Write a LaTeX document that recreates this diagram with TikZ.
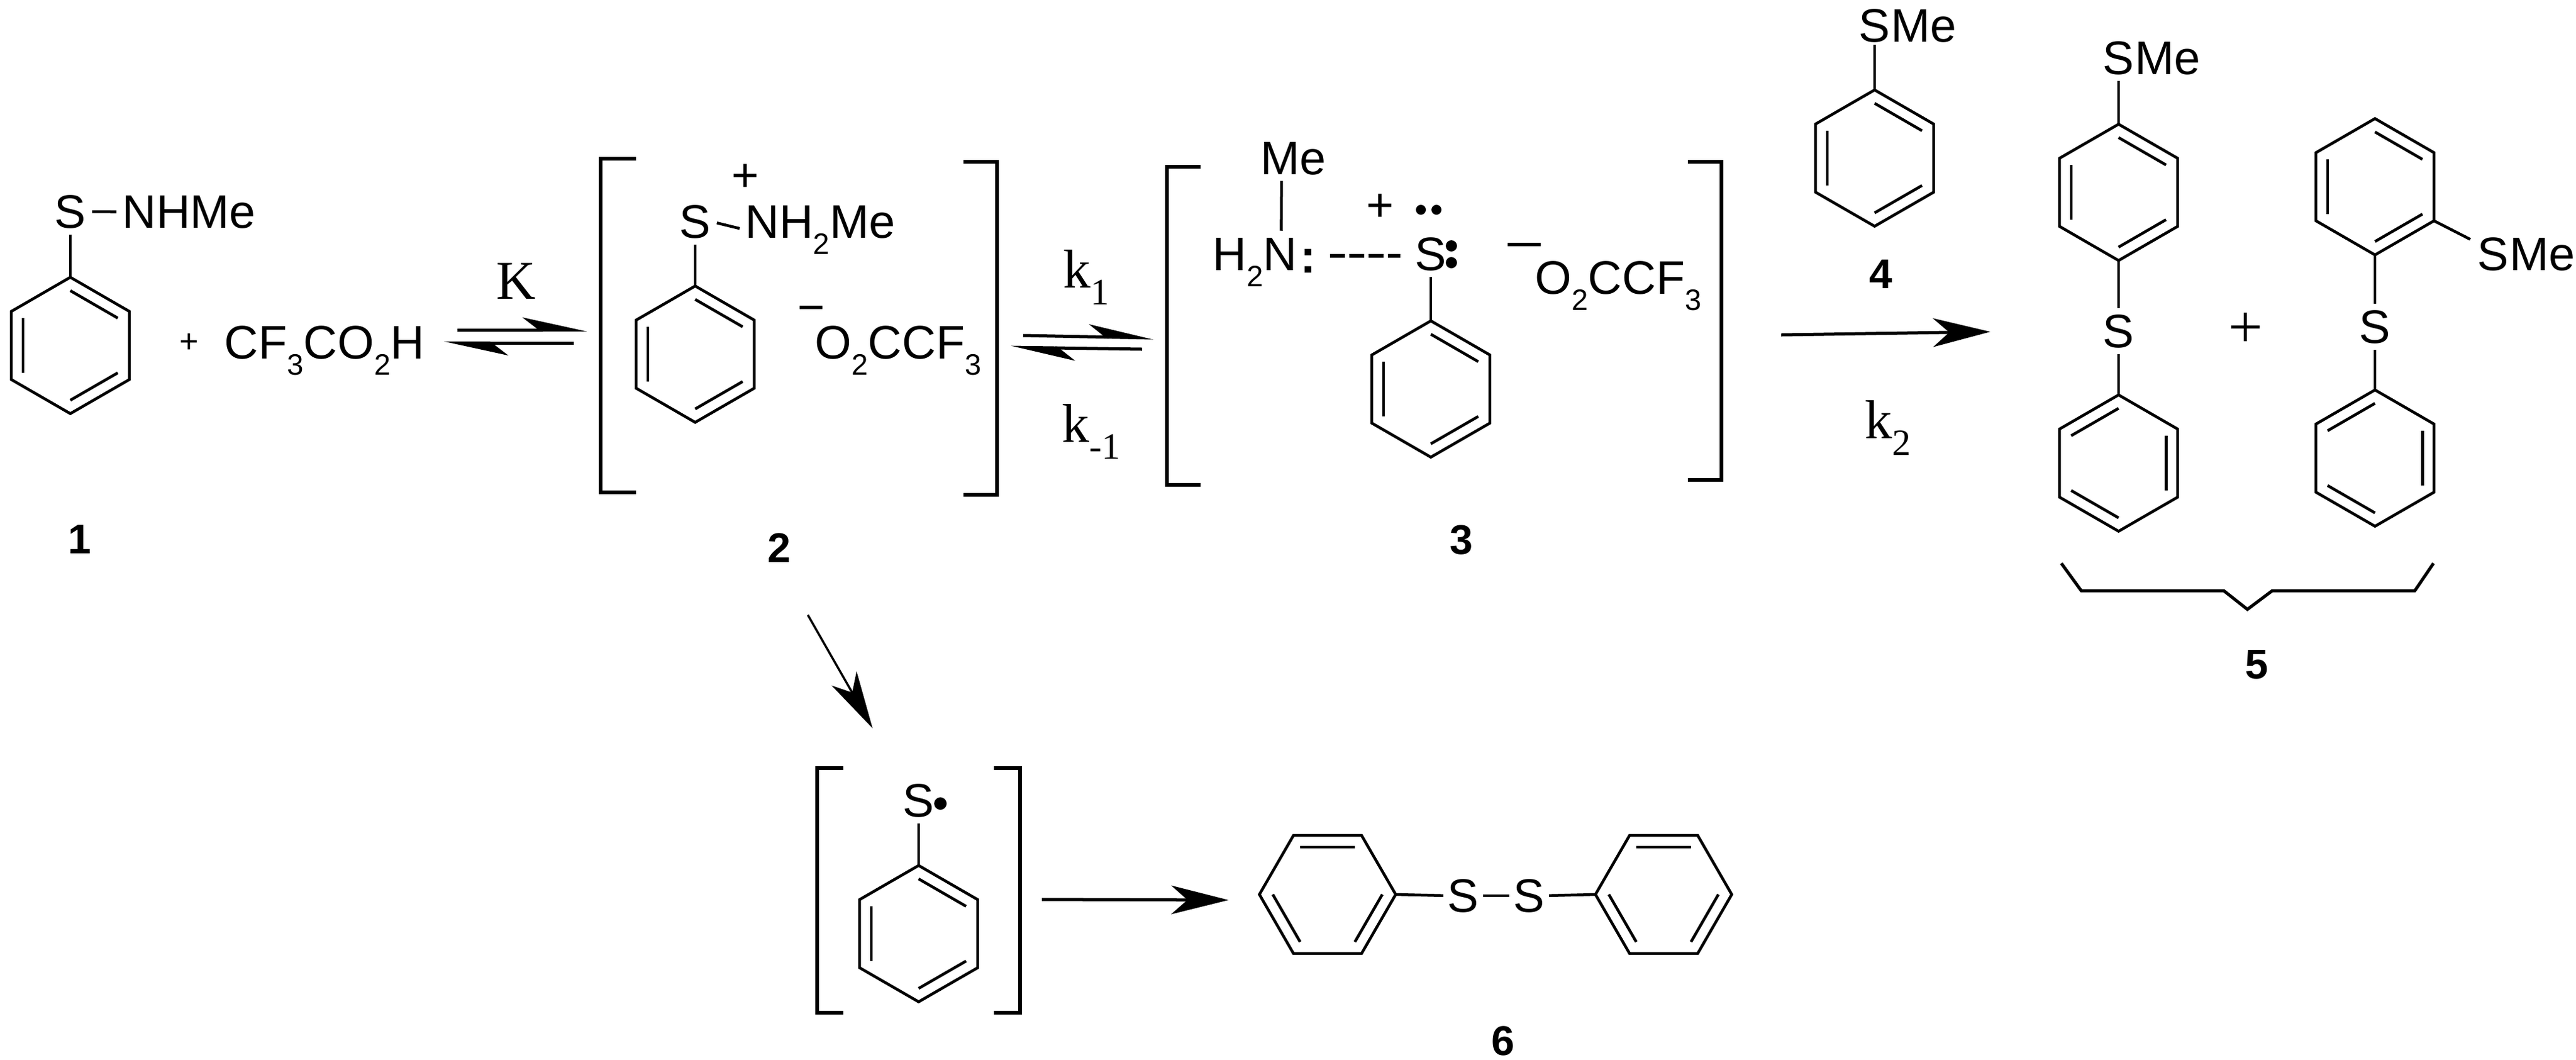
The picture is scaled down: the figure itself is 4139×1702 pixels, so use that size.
\documentclass[tikz,border=0pt]{standalone}
\usepackage{fontspec}
\setmainfont{Liberation Sans}
\newfontfamily\timesfnt{Liberation Serif}
\usetikzlibrary{arrows.meta}
\newcommand{\subsc}[1]{\raisebox{-7.5pt}{\fontsize{13.5}{13.5}\selectfont #1}}
\newcommand{\subk}[1]{\raisebox{-7.7pt}{\fontsize{17}{17}\selectfont #1}}
\tikzset{
  atom/.style={inner sep=0pt,anchor=base,font=\fontsize{21.5}{25}\selectfont},
  cpd/.style={atom,font=\fontsize{19}{23}\selectfont\bfseries},
  rate/.style={atom,font=\fontsize{25}{30}\selectfont\timesfnt},
  bond/.style={line width=0.045cm,shorten <=2.6pt},
  brk/.style={line width=0.06cm},
  rxn/.style={line width=0.05cm,-{Stealth[length=0.92cm,width=0.46cm,inset=0.26cm]}},
  eqm/.style={line width=0.05cm,-{Stealth[harpoon,length=0.92cm,width=0.40cm,inset=0.26cm]}}
}
% ring: name, x, y, rotation, first double bond
\newcommand{\phring}[5]{%
  \begin{scope}[shift={(#2,#3)}]
    \foreach \k in {1,...,6}
      \coordinate (#1-\k) at ({#4-150+60*\k}:109.5);
    \draw [line width=0.045cm] (#1-1)--(#1-2)--(#1-3)--(#1-4)--(#1-5)--(#1-6)--cycle;
    \foreach \k in {1,3,5}
      \draw [line width=0.045cm] ({#4-150+60*(\k+#5)}:88)--({#4-90+60*(\k+#5)}:88);
  \end{scope}}
\begin{document}
\begin{tikzpicture}[x=0.01cm,y=-0.01cm]
\useasboundingbox (0,0) rectangle (4139,1702);
% 1
\phring{ra}{113}{555}{0}{0}
\node [atom] (sa) at (113,366) {S};
\node [atom,anchor=base west] (na) at (196,366) {NHMe};
\draw [bond] (sa.south)--(ra-1);
\draw [bond,shorten >=2.5pt] (sa.east)--(na.west);
\node [atom,font=\fontsize{15}{15}\selectfont] (plusa) at (304,566) {+};
\node [atom,anchor=base west] (acid) at (360,576) {CF\subsc{3}CO\subsc{2}H};
\node [cpd] (lab1) at (128,889) {1};
% K
\node [rate] (keq) at (829,480) {K};
\coordinate (ka) at (735,530);
\coordinate (kb) at (943,530);
\coordinate (kc) at (922,551);
\coordinate (kd) at (713,551);
\draw [eqm] (ka)--(kb);
\draw [eqm] (kc)--(kd);
% 2
\draw [brk] (1022,255)--(965,255)--(965,791)--(1022,791);
\draw [brk] (1548,260)--(1602,260)--(1602,795)--(1548,795);
\phring{rb}{1117}{569}{0}{0}
\node [atom] (sb) at (1117,382) {S};
\node [atom,anchor=base west] (nb) at (1197,382) {NH\subsc{2}Me};
\draw [bond] (sb.south)--(rb-1);
\draw [bond,shorten >=2.5pt] (sb.east)--(nb.west);
\node [atom] (plusb) at (1198,307) {+};
\node [atom] (minb) at (1304,519) {−};
\node [atom,anchor=base west] (tfab) at (1309,576) {O\subsc{2}CCF\subsc{3}};
\node [cpd] (lab2) at (1252,903) {2};
% k1, k-1
\node [rate] (kone) at (1745,462) {k\subk{1}};
\node [rate] (kmin) at (1753,710) {k\subk{-1}};
\coordinate (la) at (1644,539);
\coordinate (lb) at (1853,543);
\coordinate (lc) at (1835,561);
\coordinate (ld) at (1624,558);
\draw [eqm] (la)--(lb);
\draw [eqm] (lc)--(ld);
% 3
\draw [brk] (1929,268)--(1875,268)--(1875,779)--(1929,779);
\draw [brk] (2712,260)--(2766,260)--(2766,771)--(2712,771);
\phring{rc}{2299}{625}{0}{0}
\node [atom,anchor=base west] (mec) at (2025,280) {Me};
\node [atom,anchor=base west] (hc) at (1948,434) {H\subsc{2}N};
\node [atom,font=\fontsize{21.5}{25}\selectfont\bfseries] (colc) at (2102,438) {:};
\node [atom] (sc) at (2299,434) {S};
\draw [bond,shorten >=3pt] ([xshift=-0.19cm]mec.south)--([xshift=0.42cm]hc.north);
\draw [line width=0.065cm,dash pattern=on 0.24cm off 0.07cm,shorten <=6.2pt,shorten >=6.5pt] ([yshift=-0.03cm]colc.east |- sc.west)--([yshift=-0.03cm]sc.west);
\draw [bond] (sc.south)--(rc-1);
\node [atom] (plusc) at (2218,355) {+};
\fill (2283,337) circle [radius=8];
\fill (2308,337) circle [radius=8];
\fill (2332,395) circle [radius=9];
\fill (2332,422) circle [radius=9];
\node [atom] (minc) at (2449,418) {\scalebox{1.45}[1]{−}};
\node [atom,anchor=base west] (tfac) at (2466,472) {O\subsc{2}CCF\subsc{3}};
\node [cpd] (lab3) at (2348,890) {3};
% 4
\phring{rd}{3012}{254}{0}{0}
\node [atom] (sd) at (3012,67) {S};
\node [atom,anchor=base west] (med) at (sd.base east) {Me};
\draw [bond,shorten <=1pt] (sd.south)--(rd-1);
\node [cpd] (lab4) at (3022,463) {4};
\coordinate (ma) at (2862,538);
\coordinate (mb) at (3198,533);
\draw [rxn] (ma)--(mb);
\node [rate] (ktwo) at (3033,704) {k\subk{2}};
% 5
\phring{re}{3404}{309}{0}{0}
\phring{rf}{3404}{744}{0}{1}
\node [atom] (se) at (3404,119) {S};
\node [atom,anchor=base west] (mee) at (se.base east) {Me};
\node [atom] (sf) at (3404,558) {S};
\draw [bond] (se.south)--(re-1);
\draw [bond] (sf.north)--(re-4);
\draw [bond] (sf.south)--(rf-1);
\node [atom,font=\fontsize{28}{28}\selectfont\timesfnt] (pluse) at (3608,558) {+};
\phring{rg}{3816}{300}{0}{0}
\phring{rh}{3816}{736}{0}{1}
\node [atom] (sg) at (4006,434) {S};
\node [atom,anchor=base west] (meg) at (sg.base east) {Me};
\node [atom] (sh) at (3816,551) {S};
\draw [bond,shorten <=0pt] ([xshift=-0.11cm,yshift=-0.04cm]sg.north west)--(rg-3);
\draw [bond] (sh.north)--(rg-4);
\draw [bond] (sh.south)--(rh-1);
\draw [line width=0.05cm] (3312,905)--(3344,949)--(3573,949)--(3611,979)--(3651,949)--(3880,949)--(3910,905);
\node [cpd] (lab5) at (3626,1090) {5};
% radical
\coordinate (ua) at (1298,988);
\coordinate (ub) at (1402,1170);
\draw [line width=0.035cm,-{Stealth[length=0.92cm,width=0.46cm,inset=0.26cm]}] (ua)--(ub);
\draw [brk] (1355,1234)--(1313,1234)--(1313,1627)--(1355,1627);
\draw [brk] (1597,1234)--(1639,1234)--(1639,1627)--(1597,1627);
\phring{ri}{1476}{1500}{0}{0}
\node [atom] (si) at (1476,1312) {S};
\fill (1511,1291) circle [radius=10];
\draw [bond] (si.south)--(ri-1);
\coordinate (pa) at (1674,1445);
\coordinate (pb) at (1974,1446);
\draw [rxn] (pa)--(pb);
% 6
\phring{rj}{2133}{1437}{30}{1}
\phring{rk}{2673}{1437}{30}{1}
\node [atom] (sj) at (2351,1465) {S};
\node [atom] (sk) at (2457,1465) {S};
\draw [bond,shorten <=1.7pt] (sj.west)--(rj-2);
\draw [bond,shorten <=1.7pt,shorten >=1.7pt] (sj.east)--(sk.west);
\draw [bond,shorten <=1.7pt] (sk.east)--(rk-5);
\node [cpd] (lab6) at (2415,1695) {6};
\end{tikzpicture}
\end{document}
